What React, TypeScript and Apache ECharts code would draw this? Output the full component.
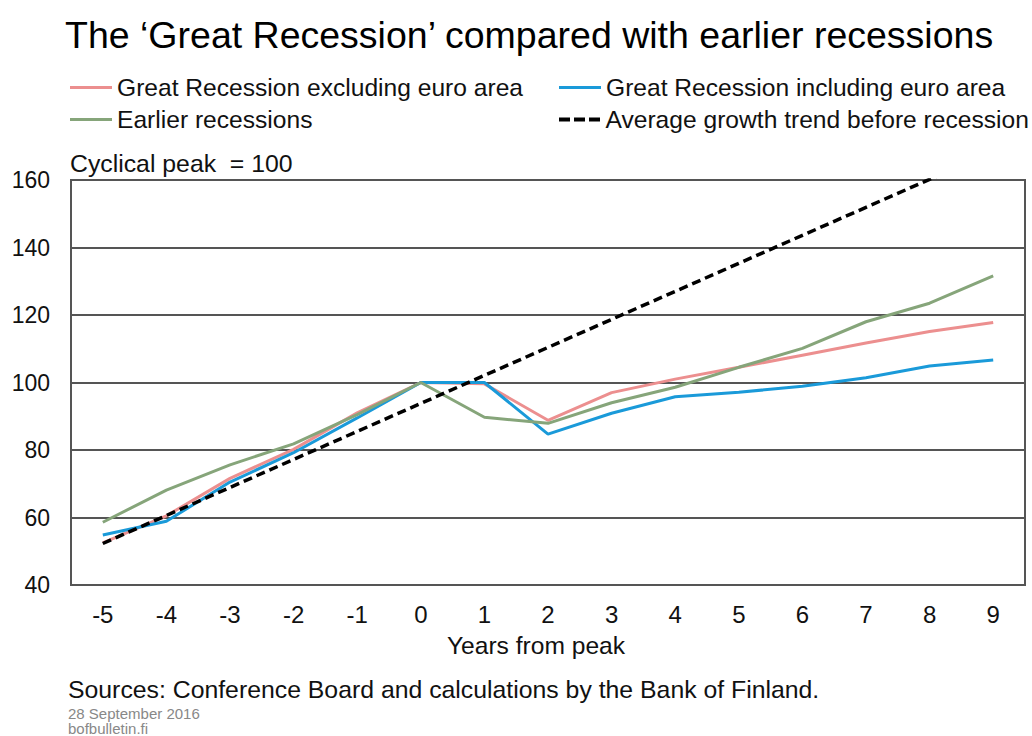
import React, { useEffect, useRef } from "react";
import * as echarts from "echarts";

const years = ["-5", "-4", "-3", "-2", "-1", "0", "1", "2", "3", "4", "5", "6", "7", "8", "9"];
const excludingEuro = [52.5, 60.5, 71.6, 80.2, 91, 100, 99.6, 88.8, 97, 101, 104.5, 108.1, 111.7, 115.1, 117.8];
const includingEuro = [54.8, 58.9, 70.5, 79.2, 89.5, 100, 100, 84.7, 90.9, 95.8, 97.1, 98.9, 101.4, 104.9, 106.7];
const earlier = [58.6, 68.1, 75.6, 81.8, 90.5, 100, 89.7, 87.9, 94.0, 98.6, 104.5, 110.1, 118.0, 123.5, 131.6];
const trend = [52.3, 60.6, 68.9, 77.2, 85.5, 93.8, 102.1, 110.4, 118.7, 127.0, 135.3, 143.6, 151.9, 160.2, 168.5];

const FONT = "'Liberation Sans', Arial, sans-serif";
const solidIcon = "rect";
const dashIcon = "path://M0,0h11v4h-11z M15,0h11v4h-11z M30,0h11v4h-11z";

export default function App() {
  const ref = useRef<HTMLDivElement>(null);
  useEffect(() => {
    if (!ref.current) return;
    const chart = echarts.init(ref.current, undefined, { renderer: "svg" });
    const legendBase = {
      orient: "horizontal",
      itemWidth: 42,
      itemHeight: 3,
      itemGap: 4,
      padding: 0,
      textStyle: { fontFamily: FONT, fontSize: 24.6, color: "#111" },
      selectedMode: false,
    };
    chart.setOption({
      animation: false,
      backgroundColor: "#fff",
      textStyle: { fontFamily: FONT },
      title: {
        text: "The \u2018Great Recession\u2019 compared with earlier recessions",
        left: 65,
        top: 16,
        padding: 0,
        textStyle: { fontFamily: FONT, fontSize: 37.5, fontWeight: "normal", color: "#000" },
      },
      legend: [
        { ...legendBase, left: 70, top: 75, icon: solidIcon, data: ["Great Recession excluding euro area"] },
        { ...legendBase, left: 559, top: 75, icon: solidIcon, data: ["Great Recession including euro area"] },
        { ...legendBase, left: 70, top: 107, icon: solidIcon, data: ["Earlier recessions"] },
        { ...legendBase, left: 559, top: 107, itemHeight: 4, icon: dashIcon, data: ["Average growth trend before recession"] },
      ],
      grid: {
        left: 71,
        right: 7,
        top: 180,
        bottom: 151,
        show: true,
        borderColor: "#555",
        borderWidth: 2,
        containLabel: false,
      },
      xAxis: {
        type: "category",
        data: years,
        boundaryGap: true,
        name: "Years from peak",
        nameLocation: "middle",
        nameGap: 48,
        nameTextStyle: { fontFamily: FONT, fontSize: 24.6, color: "#111", padding: [0, 24, 0, 0] },
        axisLine: { show: true, lineStyle: { color: "#555", width: 2 } },
        axisTick: { show: false },
        axisLabel: { fontFamily: FONT, fontSize: 24, color: "#111", margin: 17 },
      },
      yAxis: {
        type: "value",
        min: 40,
        max: 160,
        interval: 20,
        axisLine: { show: true, lineStyle: { color: "#555", width: 2 } },
        axisTick: { show: false },
        axisLabel: { fontFamily: FONT, fontSize: 23, color: "#111", margin: 21 },
        splitLine: { show: true, lineStyle: { color: "#555", width: 2 } },
      },
      graphic: [
        {
          type: "text",
          left: 70,
          top: 151,
          style: { text: "Cyclical peak  = 100", fontFamily: FONT, fontSize: 24.8, fill: "#111" },
        },
        {
          type: "text",
          left: 68,
          top: 677,
          style: {
            text: "Sources: Conference Board and calculations by the Bank of Finland.",
            fontFamily: FONT,
            fontSize: 24.8,
            fill: "#111",
          },
        },
        {
          type: "text",
          left: 68,
          top: 706,
          style: { text: "28 September 2016", fontFamily: FONT, fontSize: 15, fill: "#888" },
        },
        {
          type: "text",
          left: 68,
          top: 721,
          style: { text: "bofbulletin.fi", fontFamily: FONT, fontSize: 15, fill: "#888" },
        },
      ],
      series: [
        {
          name: "Great Recession excluding euro area",
          type: "line",
          data: excludingEuro,
          symbol: "none",
          color: "#ec8f8f",
          lineStyle: { width: 3, color: "#ec8f8f" },
          z: 2,
        },
        {
          name: "Great Recession including euro area",
          type: "line",
          data: includingEuro,
          symbol: "none",
          color: "#1a9ad9",
          lineStyle: { width: 3, color: "#1a9ad9" },
          z: 3,
        },
        {
          name: "Earlier recessions",
          type: "line",
          data: earlier,
          symbol: "none",
          color: "#86a57a",
          lineStyle: { width: 3, color: "#86a57a" },
          z: 4,
        },
        {
          name: "Average growth trend before recession",
          type: "line",
          data: trend,
          symbol: "none",
          color: "#000",
          clip: true,
          lineStyle: { width: 3.5, color: "#000", type: [9, 5] },
          z: 5,
        },
      ],
    });
    return () => chart.dispose();
  }, []);
  return (
    <div
      ref={ref}
      style={{ position: "fixed", left: 0, top: 0, width: 1032, height: 736 }}
    />
  );
}
